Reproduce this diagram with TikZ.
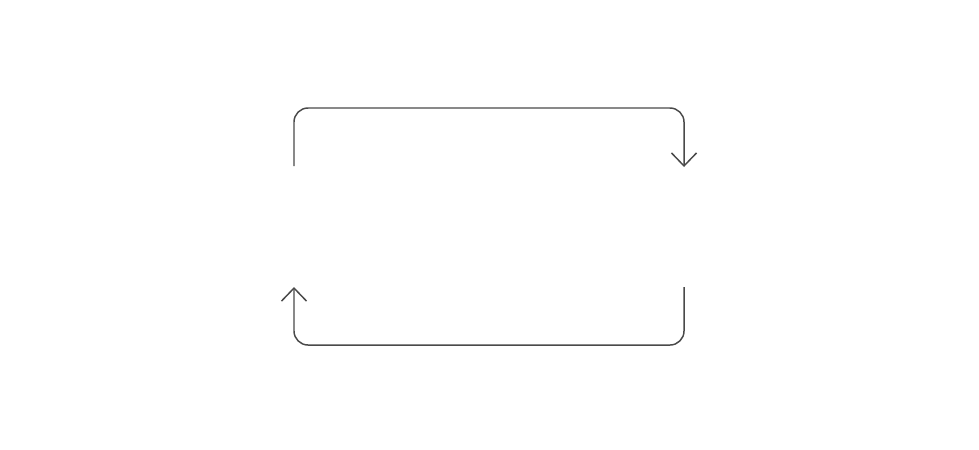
\documentclass[tikz,border=0pt]{standalone}
\usetikzlibrary{arrows.meta}
\definecolor{loopgray}{HTML}{4A4A4A}
\tikzset{
  loopline/.style={draw=loopgray, line width=0.42pt, rounded corners=0.14cm,
    -{Straight Barb[length=0.13cm, width=0.25cm, line width=0.42pt]}}
}
\begin{document}
\begin{tikzpicture}
	% Canvas 979x449 px, 1 unit = 100 px
	\useasboundingbox (0,0) rectangle (9.79,4.49);
	
	% Corner points of the loop
	\coordinate (topstart) at (2.94,2.83);
	\coordinate (topend) at (6.84,2.82);
	\coordinate (botstart) at (6.84,1.62);
	\coordinate (botend) at (2.94,1.62);
	
	% Upper connector, left to right
	\draw[loopline] (topstart) |- (6.84,3.41) -- (topend);
	
	% Lower connector, right to left
	\draw[loopline] (botstart) |- (2.94,1.04) -- (botend);
	
\end{tikzpicture}
\end{document}
